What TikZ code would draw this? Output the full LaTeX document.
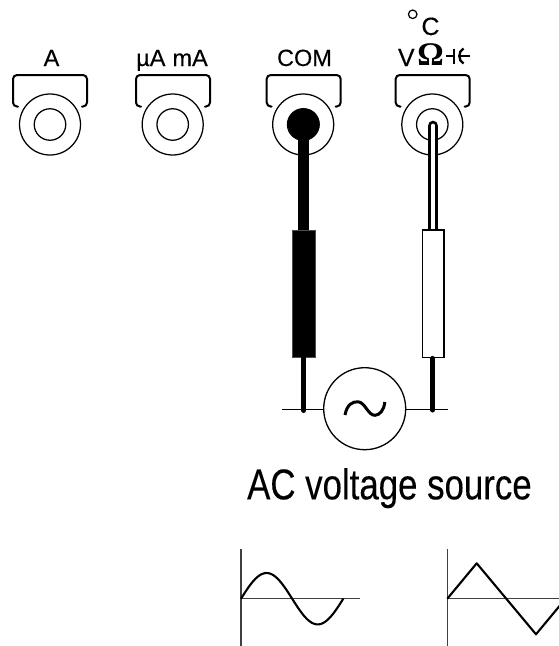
\documentclass[tikz,border=0pt]{standalone}
\usepackage{fontspec}
\setmainfont{Liberation Sans}[FakeBold=0.25]
\newfontfamily\serifbold{Liberation Serif}
\tikzset{
  x=1pt,y=-1pt,
  jackring/.style={circle,draw=black,line width=1.25pt,inner sep=0pt,minimum size=#1},
  bracket/.style={line width=2pt,rounded corners=4pt,line cap=round},
  lbl/.style={inner sep=0pt,anchor=base,font=\fontsize{23.5}{24}\selectfont},
  lblbig/.style={inner sep=0pt,anchor=base,font=\fontsize{25}{26}\selectfont},
  capsym/.style={line width=2.4pt},
  wirethin/.style={line width=1.3pt},
  axisline/.style={line width=1.4pt,draw=black!75},
  wave/.style={line width=2.1pt,line join=round},
  needle/.style={line width=5pt,line cap=round}
}
\begin{document}
\begin{tikzpicture}
\useasboundingbox (0,0) rectangle (559,646);
\clip (0,0) rectangle (559,646);
% jacks
\foreach \n/\x in {a/50,b/172.7,c/303.2,d/432.3}{
  \node[jackring=61pt] (\n out) at (\x,124.5) {};
  \node[jackring=31.5pt] (\n in) at (\x,124.5) {};
}
\foreach \x in {13,136,266.7,395.7}{
  \draw[bracket] (\x+5,106.5) -- (\x,106.5) -- (\x,75) -- (\x+74,75) -- (\x+74,106.5) -- (\x+69,106.5);
}
% labels
\node[lbl] (la) at (51.5,66) {A};
\node[lbl] (lm) at (172,66) {µA\hspace{0.3em}mA};
\node[lbl] (lc) at (304.5,66) {COM};
\node[lblbig] (lv) at (406.3,66) {V};
\node[inner sep=0pt,anchor=base,font=\fontsize{33}{33}\selectfont\serifbold\bfseries] (lo) at (430.5,65.5) {Ω};
\node[lblbig] (lcc) at (430.5,35) {C};
\node[circle,draw,line width=1.25pt,inner sep=0pt,minimum size=8.5pt] (deg) at (412.7,14.3) {};
% capacitor symbol
\draw[capsym] (446,56) -- (453.7,56);
\draw[capsym] (453.7,48.5) -- (453.7,63.5);
\draw[capsym] (470,56) -- (458,56);
\draw[capsym] (463.5,48.5) .. controls (458,51) and (458,61) .. (463.5,63.5);
% COM probe
\node[circle,fill=black,inner sep=0pt,minimum size=32pt] (ball) at (303.8,124.3) {};
\node[draw=black!70,fill=black,line width=.8pt,inner sep=0pt,minimum width=22.6pt,minimum height=127.7pt] (bbody) at (304,293.9) {};
\draw[line width=10.7pt] (ball.center) -- (bbody.north -| ball.center);
\coordinate (btip) at (303.8,410.5);
\draw[needle] (bbody.south -| btip) -- (btip);
% V probe
\coordinate (rtop) at (433,126);
\coordinate (rstem) at (433,232);
\draw[line width=10.7pt,line cap=round] (rtop) -- (rstem);
\draw[line width=4.8pt,white,line cap=round] (rtop) -- (rstem);
\node[draw=black,fill=white,line width=1.3pt,inner sep=0pt,minimum width=21.7pt,minimum height=127.7pt] (rbody) at (433.2,293.9) {};
\coordinate (rtip) at (432.7,410);
\draw[needle] (rbody.south -| rtip) -- (rtip);
% source
\node[circle,draw=black,line width=1.3pt,inner sep=0pt,minimum size=82pt,fill=white] (src) at (364.7,408.7) {};
\coordinate (wl) at (282.3,409.3);
\coordinate (wr) at (447.7,409.3);
\draw[wirethin] (wl) -- (src.west |- wl);
\draw[wirethin] (src.east |- wr) -- (wr);
\draw[line width=3pt] (345,415) .. controls (347,404) and (353,401.5) .. (358,401.8) .. controls (365,402) and (368,415.5) .. (375,415.3) .. controls (380,415) and (384,410) .. (384.8,402);
% caption
\node[inner sep=0pt,anchor=base west,xscale=.81,font=\fontsize{43}{46}\selectfont] (cap) at (247,499.3) {AC voltage source};
% sine
\coordinate (so) at (241,598.7);
\coordinate (st) at (241,549.3);
\coordinate (sb) at (241,646);
\coordinate (se) at (360,598.7);
\draw[axisline] (st) -- (sb);
\draw[axisline] (so) -- (se);
\draw[wave] plot[domain=0:360,samples=73,smooth] ({241+\x/360*102.3},{598.7-25.7*sin(\x)});
% triangle
\coordinate (to) at (447.3,598.7);
\coordinate (tt) at (447.3,549.3);
\coordinate (tb) at (447.3,646);
\coordinate (te) at (559,598.7);
\draw[axisline] (tt) -- (tb);
\draw[axisline] (to) -- (te);
\coordinate (t1) at (476.7,563.3);
\coordinate (t2) at (536,634.3);
\coordinate (t3) at (562,603);
\draw[wave] (to) -- (t1) -- (t2) -- (t3);
\end{tikzpicture}
\end{document}
